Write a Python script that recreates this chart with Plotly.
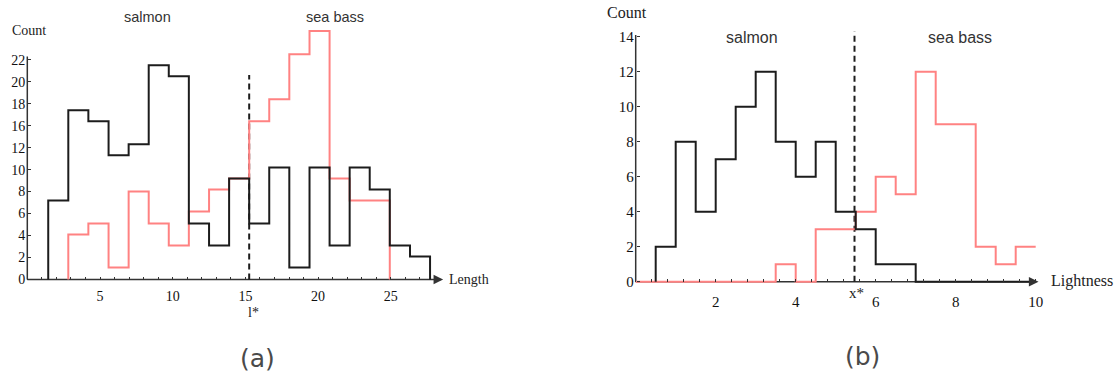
import plotly.graph_objects as go

W, H = 1119, 381

# ---------------- (a) Length histograms ----------------
length_edges = [1.44, 2.82, 4.20, 5.59, 6.97, 8.35, 9.73, 11.11, 12.50, 13.88,
                15.26, 16.64, 18.02, 19.41, 20.79, 22.17, 23.55, 24.93, 26.32, 27.70]
salmon_length = [7.2, 15.4, 14.4, 11.3, 12.3, 19.5, 18.5, 5.1, 3.1, 9.2,
                 5.1, 10.2, 1.1, 10.2, 3.1, 10.2, 8.2, 3.1, 2.1]
seabass_length_edges = length_edges[1:18]
seabass_length = [4.1, 5.1, 1.1, 8.0, 5.1, 3.1, 6.2, 8.2, 9.2,
                  14.4, 16.4, 20.5, 22.6, 9.2, 7.2, 7.2]
length_tickvals = [5, 10, 15, 20, 25]
count_a_tickvals = [0, 2, 4, 6, 8, 10, 12, 14, 16, 18, 20]
count_a_ticktext = ["0", "2", "4", "6", "8", "10", "12", "16", "18", "20", "22"]
l_star = 15.26
l_star_top = 18.6

# ---------------- (b) Lightness histograms ----------------
lightness_edges = [0.0, 0.5, 1.0, 1.5, 2.0, 2.5, 3.0, 3.5, 4.0, 4.5, 5.0,
                   5.5, 6.0, 6.5, 7.0, 7.5, 8.0, 8.5, 9.0, 9.5, 10.0]
salmon_lightness_edges = lightness_edges[1:]
salmon_lightness = [2, 8, 4, 7, 10, 12, 8, 6, 8, 4, 3, 1, 1, 0, 0, 0, 0, 0, 0]
seabass_lightness = [0, 0, 0, 0, 0, 0, 0, 1, 0, 3, 3, 4, 6, 5, 12, 9, 9, 2, 1, 2]
lightness_tickvals = [2, 4, 6, 8, 10]
count_b_tickvals = [0, 2, 4, 6, 8, 10, 12, 14]
x_star = 5.47
x_star_top = 14.3

BLACK = "#1c1c1c"
PINK = "#ff8282"
SERIF = "Liberation Serif"
SANS = "Liberation Sans"


def step_xy(edges, values, close_end=True):
    x = [edges[0]] + list(edges)
    y = [0] + list(values) + [values[-1]]
    if close_end:
        x.append(edges[-1])
        y.append(0)
    return x, y


# pixel geometry of each panel: origin (px), scale (px/unit), ranges
A = dict(ox=27.3, oy=281.0, sx=14.54, sy=11.05, xr=[-0.4, 28.9], yr=[-0.5, 23.8])
B = dict(ox=635.7, oy=283.3, sx=40.0, sy=17.6, xr=[-0.3, 10.3], yr=[-0.4, 15.2])


def dom_x(g):
    return [(g["ox"] + g["xr"][0] * g["sx"]) / W, (g["ox"] + g["xr"][1] * g["sx"]) / W]


def dom_y(g):
    return [1 - (g["oy"] - g["yr"][0] * g["sy"]) / H, 1 - (g["oy"] - g["yr"][1] * g["sy"]) / H]


fig = go.Figure()

# dashed decision thresholds (under histograms)
fig.add_trace(go.Scatter(x=[l_star, l_star], y=[0, l_star_top], mode="lines",
                         line=dict(color=BLACK, width=2, dash="6px,4px"),
                         xaxis="x", yaxis="y", showlegend=False, hoverinfo="skip"))
fig.add_trace(go.Scatter(x=[x_star, x_star], y=[0, x_star_top], mode="lines",
                         line=dict(color=BLACK, width=2, dash="6px,4px"),
                         xaxis="x2", yaxis="y2", showlegend=False, hoverinfo="skip"))

# (a)
x, y = step_xy(seabass_length_edges, seabass_length)
fig.add_trace(go.Scatter(x=x, y=y, mode="lines", line=dict(color=PINK, width=2, shape="hv"),
                         name="sea bass", xaxis="x", yaxis="y", showlegend=False))
x, y = step_xy(length_edges, salmon_length)
fig.add_trace(go.Scatter(x=x, y=y, mode="lines", line=dict(color=BLACK, width=2, shape="hv"),
                         name="salmon", xaxis="x", yaxis="y", showlegend=False))

# (b)
x, y = step_xy(lightness_edges, seabass_lightness, close_end=False)
fig.add_trace(go.Scatter(x=x, y=y, mode="lines", line=dict(color=PINK, width=2, shape="hv"),
                         name="sea bass", xaxis="x2", yaxis="y2", showlegend=False))
x, y = step_xy(salmon_lightness_edges, salmon_lightness)
fig.add_trace(go.Scatter(x=x, y=y, mode="lines", line=dict(color=BLACK, width=2, shape="hv"),
                         name="salmon", xaxis="x2", yaxis="y2", showlegend=False))

tickfont_a = dict(family=SERIF, size=14, color="#111")
tickfont_b = dict(family=SERIF, size=15, color="#111")

common = dict(showgrid=False, zeroline=False, showline=False, ticks="inside",
              ticklen=3, tickwidth=1, tickcolor="#333", tickmode="array", fixedrange=True)

fig.update_layout(
    width=W, height=H,
    margin=dict(l=0, r=0, t=0, b=0),
    paper_bgcolor="white", plot_bgcolor="rgba(0,0,0,0)",
    xaxis=dict(domain=dom_x(A), range=A["xr"], anchor="free", position=1 - A["oy"] / H,
               tickvals=length_tickvals, ticktext=[str(v) for v in length_tickvals],
               tickfont=tickfont_a, ticklabelstandoff=6,
               minor=dict(tickmode="linear", tick0=0, dtick=1, ticks="inside", ticklen=3,
                          tickcolor="#333", showgrid=False),
               **common),
    yaxis=dict(domain=dom_y(A), range=A["yr"], anchor="free", position=A["ox"] / W,
               tickvals=count_a_tickvals, ticktext=count_a_ticktext,
               tickfont=tickfont_a, ticklabelstandoff=2, **common),
    xaxis2=dict(domain=dom_x(B), range=B["xr"], anchor="free", position=1 - B["oy"] / H,
                tickvals=lightness_tickvals, ticktext=[str(v) for v in lightness_tickvals],
                tickfont=tickfont_b, ticklabelstandoff=9,
                minor=dict(tickmode="linear", tick0=0, dtick=0.4, ticks="inside", ticklen=3,
                           tickcolor="#333", showgrid=False),
                **common),
    yaxis2=dict(domain=dom_y(B), range=B["yr"], anchor="free", position=B["ox"] / W,
                tickvals=count_b_tickvals, ticktext=[str(v) for v in count_b_tickvals],
                tickfont=tickfont_b, ticklabelstandoff=2, **common),
)

# axis lines (below traces) and arrow heads
AXC = "#333"
fig.add_shape(type="line", xref="x", yref="y", x0=0, y0=0, x1=28.4, y1=0,
              line=dict(color=AXC, width=1.5), layer="below")
fig.add_shape(type="line", xref="x", yref="y", x0=0, y0=0, x1=0, y1=20.3,
              line=dict(color=AXC, width=1.5), layer="below")
fig.add_shape(type="line", xref="x2", yref="y2", x0=0, y0=0, x1=10.0, y1=0,
              line=dict(color=AXC, width=1.5), layer="below")
fig.add_shape(type="line", xref="x2", yref="y2", x0=0, y0=0, x1=0, y1=14.1,
              line=dict(color=AXC, width=1.5), layer="below")
fig.add_annotation(x=28.6, y=0, xref="x", yref="y", ax=27.9, ay=0, axref="x", ayref="y",
                   text="", showarrow=True, arrowhead=2, arrowsize=1.6, arrowwidth=1.2,
                   arrowcolor=AXC)
fig.add_annotation(x=10.07, y=0, xref="x2", yref="y2", ax=9.85, ay=0, axref="x2", ayref="y2",
                   text="", showarrow=True, arrowhead=2, arrowsize=1.6, arrowwidth=1.2,
                   arrowcolor=AXC)


def label(text, px, py, size, family, color="#222", xanchor="center"):
    fig.add_annotation(x=px / W, y=1 - py / H, xref="paper", yref="paper", text=text,
                       showarrow=False, xanchor=xanchor, yanchor="middle",
                       font=dict(family=family, size=size, color=color))


# (a) texts
label("Count", 29, 31, 14, SERIF)
label("salmon", 147, 17, 14.5, SANS, "#333")
label("sea bass", 335, 17, 14.5, SANS, "#333")
label("Length", 447, 281, 14, SERIF, xanchor="left")
label("l*", 253, 314, 14, SERIF)
label("(a)", 257.5, 360, 25, "DejaVu Sans", "#4a4a4a")

# (b) texts
label("Count", 627, 12.5, 16, SERIF)
label("salmon", 752, 38, 16, SANS, "#333")
label("sea bass", 960, 38, 16, SANS, "#333")
label("Lightness", 1049, 282, 16, SERIF, xanchor="left")
label("x*", 856, 295, 15, SERIF)
label("(b)", 862, 358, 25, "DejaVu Sans", "#4a4a4a")

fig.write_html("out.html")
